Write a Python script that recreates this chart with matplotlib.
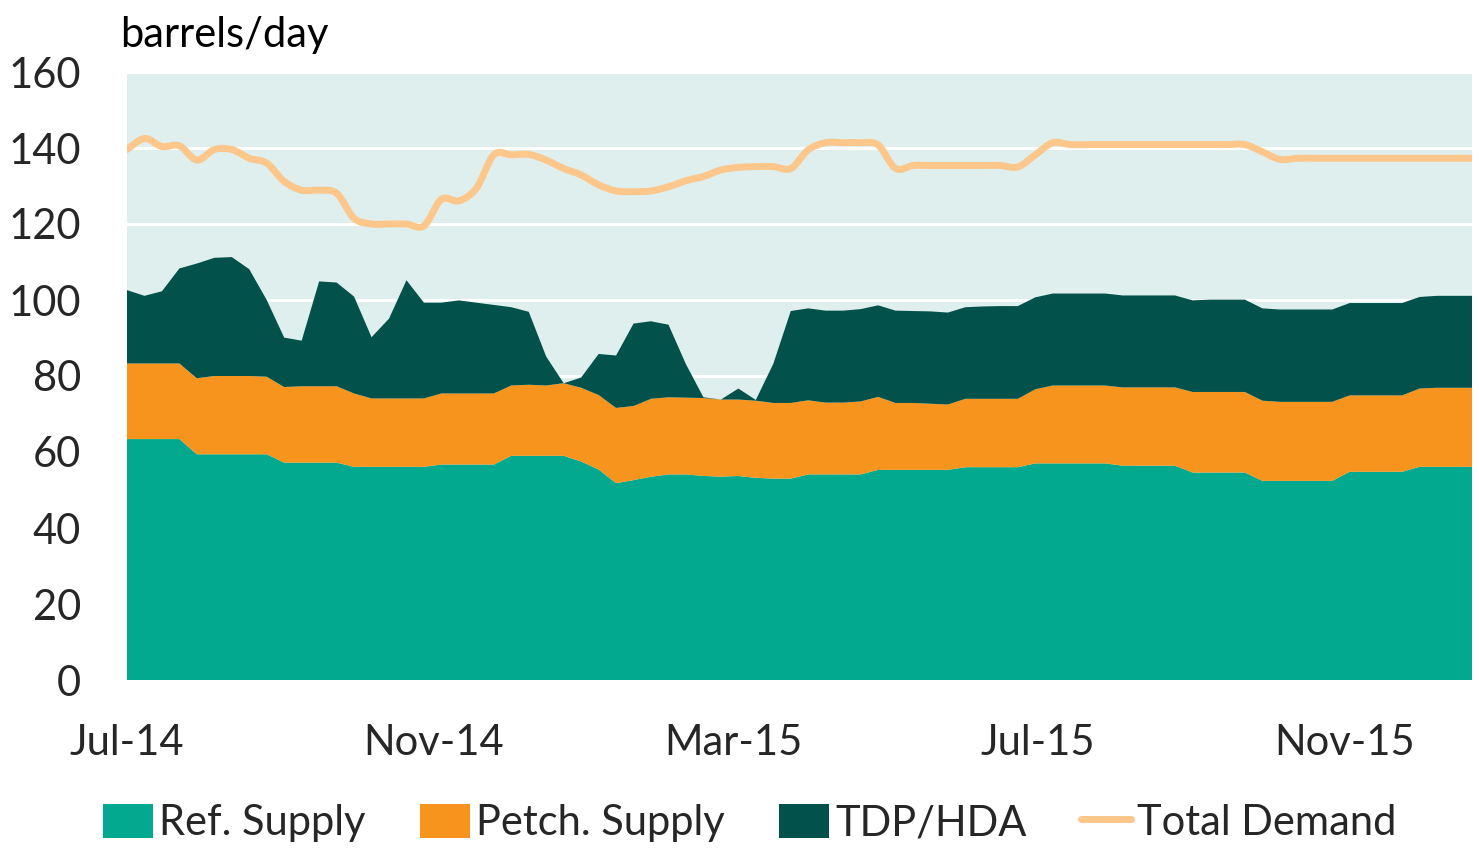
import numpy as np
import pandas as pd
import matplotlib
matplotlib.use("Agg")
import matplotlib.pyplot as plt
import matplotlib.dates as mdates
from matplotlib.path import Path
from matplotlib.patches import PathPatch
from matplotlib.lines import Line2D
from matplotlib.patches import Patch

plt.rcParams['font.family'] = ['Lato', 'DejaVu Sans']

weeks = pd.date_range("2014-07-01", periods=78, freq="7D")

ref_supply = [63.4, 63.4, 63.4, 63.4, 59.4, 59.4, 59.4, 59.4, 59.4, 57.2,
              57.2, 57.2, 57.2, 56.1, 56.1, 56.1, 56.1, 56.1, 56.7, 56.7,
              56.7, 56.7, 59.0, 59.0, 59.0, 59.0, 57.5, 55.4, 51.8, 52.6,
              53.5, 54.1, 54.1, 53.7, 53.5, 53.7, 53.2, 53.0, 53.0, 54.1,
              54.1, 54.1, 54.1, 55.3, 55.3, 55.3, 55.3, 55.3, 56.0, 56.0,
              56.0, 56.0, 57.0, 57.0, 57.0, 57.0, 57.0, 56.4, 56.4, 56.4,
              56.4, 54.6, 54.6, 54.6, 54.6, 52.4, 52.4, 52.4, 52.4, 52.4,
              54.8, 54.8, 54.8, 54.8, 56.1, 56.1, 56.1, 56.1]

petch_supply = [19.9, 19.9, 19.9, 19.9, 20.0, 20.6, 20.6, 20.6, 20.4, 19.9,
                20.1, 20.1, 20.1, 19.3, 18.0, 18.0, 18.0, 18.0, 18.7, 18.7,
                18.7, 18.7, 18.5, 18.7, 18.5, 19.1, 19.4, 19.6, 19.8, 19.5,
                20.5, 20.3, 20.2, 20.5, 20.3, 20.1, 20.3, 19.9, 19.9, 19.5,
                18.9, 18.9, 19.2, 19.2, 17.6, 17.6, 17.4, 17.2, 18.0, 18.0,
                18.0, 18.0, 19.5, 20.5, 20.5, 20.5, 20.5, 20.6, 20.6, 20.6,
                20.6, 21.2, 21.2, 21.2, 21.2, 21.1, 20.8, 20.8, 20.8, 20.8,
                20.1, 20.1, 20.1, 20.1, 20.6, 20.8, 20.8, 20.8]

tdp_hda = [19.3, 17.8, 19.0, 25.0, 30.2, 31.1, 31.3, 28.1, 20.2, 13.0,
           12.0, 27.6, 27.3, 25.5, 16.1, 21.0, 31.1, 25.2, 23.9, 24.5,
           23.9, 23.3, 20.6, 19.2, 7.6, 0.0, 2.7, 10.8, 13.8, 21.7,
           20.4, 19.1, 8.8, 0.2, 0.0, 2.9, 0.2, 10.3, 24.2, 24.2,
           24.2, 24.2, 24.3, 24.1, 24.3, 24.2, 24.3, 24.2, 24.1, 24.3,
           24.4, 24.4, 24.2, 24.2, 24.2, 24.2, 24.2, 24.2, 24.2, 24.2,
           24.2, 24.1, 24.3, 24.3, 24.3, 24.3, 24.3, 24.3, 24.3, 24.3,
           24.3, 24.3, 24.3, 24.3, 24.1, 24.2, 24.2, 24.2]

total_demand = [139.6, 142.5, 140.4, 140.6, 136.8, 139.6, 139.6, 137.3, 136.0, 131.2,
                128.9, 128.9, 128.1, 121.5, 120.0, 120.0, 120.0, 119.5, 126.5, 126.1,
                129.4, 138.2, 138.2, 138.3, 136.8, 134.6, 132.9, 130.3, 128.7, 128.5,
                128.7, 129.8, 131.4, 132.5, 134.2, 134.9, 135.1, 135.1, 134.6, 139.5,
                141.4, 141.4, 141.4, 140.8, 134.6, 135.4, 135.4, 135.4, 135.4, 135.4,
                135.4, 135.0, 138.2, 141.4, 140.9, 140.9, 140.9, 140.9, 140.9, 140.9,
                140.9, 140.9, 140.9, 140.9, 140.9, 139.0, 137.0, 137.3, 137.3, 137.3,
                137.3, 137.3, 137.3, 137.3, 137.3, 137.3, 137.3, 137.3]

labels = ["Ref. Supply", "Petch. Supply", "TDP/HDA", "Total Demand"]
colors = ["#02A98F", "#F7941D", "#02524B", "#FDC68A"]
xtick_dates = ["2014-07-01", "2014-11-01", "2015-03-01", "2015-07-01", "2015-11-01"]


def smooth_path(x, y):
    # Excel-like smoothed line: cubic bezier through every point
    pts = np.column_stack([x, y])
    verts = [pts[0]]
    codes = [Path.MOVETO]
    n = len(pts)
    for i in range(n - 1):
        p0 = pts[max(i - 1, 0)]
        p1 = pts[i]
        p2 = pts[i + 1]
        p3 = pts[min(i + 2, n - 1)]
        c1 = p1 + (p2 - p0) / 6.0
        c2 = p2 - (p3 - p1) / 6.0
        verts += [c1, c2, p2]
        codes += [Path.CURVE4] * 3
    return Path(verts, codes)


fig = plt.figure(figsize=(14.79, 8.51), dpi=100)
ax = fig.add_axes([127 / 1479, 1 - 680 / 851, 1345 / 1479, 608 / 851])
ax.set_facecolor("#DFEFED")

xnum = mdates.date2num(weeks)
ax.stackplot(xnum, ref_supply, petch_supply, tdp_hda, colors=colors[:3],
             linewidth=0, zorder=2)

patch = PathPatch(smooth_path(xnum, total_demand), facecolor="none",
                  edgecolor=colors[3], lw=5, capstyle="round", joinstyle="round",
                  zorder=3)
ax.add_patch(patch)

ax.set_xlim(xnum[0], xnum[-1])
ax.set_ylim(0, 160)
ax.set_yticks(range(0, 161, 20))
ax.yaxis.grid(True, color="white", lw=2.2, zorder=1)
ax.set_axisbelow(True)
for s in ax.spines.values():
    s.set_visible(False)

ax.set_xticks(mdates.date2num(pd.to_datetime(xtick_dates)))
ax.set_xticklabels([pd.Timestamp(d).strftime("%b-%y") for d in xtick_dates])
ax.tick_params(axis="both", length=0, labelsize=30, colors="#262626")
ax.tick_params(axis="y", pad=33)
ax.tick_params(axis="x", pad=32)

fig.text(120 / 1479, 1 - 47 / 851, "barrels/day", fontsize=30, color="black",
         va="baseline", ha="left")

handles = [Patch(facecolor=c, edgecolor="none") for c in colors[:3]]
handles.append(Line2D([0], [0], color=colors[3], lw=5, solid_capstyle="round"))
fig.legend(handles, labels, loc="center", bbox_to_anchor=(750 / 1479, 1 - 823 / 851),
           ncol=4, frameon=False, fontsize=30, handlelength=1.2, handleheight=0.9,
           handletextpad=0.15, columnspacing=1.3, labelcolor="#262626")

fig.savefig("out.png", dpi=100)
